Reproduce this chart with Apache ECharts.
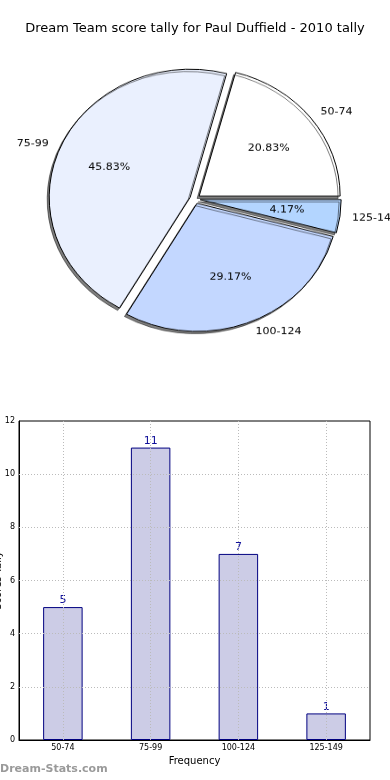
<!DOCTYPE html>
<html>
<head>
<meta charset="utf-8">
<script src="https://cdn.jsdelivr.net/npm/echarts@6/dist/echarts.min.js"></script>
<style>
  html, body { margin: 0; padding: 0; background: #fff; }
  #wrap { position: relative; width: 390px; height: 780px; overflow: hidden; }
  #main { position: absolute; left: 0; top: 0; width: 390px; height: 780px; }
  #pie { position: absolute; left: 0; top: 0; width: 390px; height: 440px;
         transform: scaleY(0.908); transform-origin: 0 0; pointer-events: none; }
</style>
</head>
<body>
<div id="wrap"><div id="main"></div><div id="pie"></div></div>
<script>
// ---- data ----
const titleText = 'Dream Team score tally for Paul Duffield - 2010 tally';
const categories = ['50-74', '75-99', '100-124', '125-149'];
const counts = [5, 11, 7, 1];
const yTicks = [0, 2, 4, 6, 8, 10, 12];
const xAxisName = 'Frequency';
const yAxisName = 'Scores Tally';
const watermark = 'Dream-Stats.com';

// ---- styles ----
const FONT = 'DejaVu Sans';
const pieColors = ['#ffffff', '#eaf0fe', '#c3d7ff', '#b3d5ff'];

const main = echarts.init(document.getElementById('main'), null, { renderer: 'canvas' });
main.setOption({
  animation: false,
  backgroundColor: '#ffffff',
  textStyle: { fontFamily: FONT },
  title: {
    text: titleText, left: 'center', top: 17,
    textStyle: { fontSize: 13, fontWeight: 'normal', color: '#000', fontFamily: FONT }
  },
  grid: { left: 19, right: 20, top: 421, bottom: 40, show: true, borderColor: '#000', borderWidth: 1,
          containLabel: false, outerBoundsMode: 'none' },
  xAxis: {
    type: 'category', data: categories,
    axisLine: { lineStyle: { color: '#000', width: 1 } },
    axisTick: { show: false },
    axisLabel: { fontSize: 8, color: '#000', margin: 4, fontFamily: FONT },
    splitLine: { show: false },
    name: xAxisName, nameLocation: 'middle', nameGap: 16, nameMoveOverlap: false,
    nameTextStyle: { fontSize: 10, color: '#000', fontFamily: FONT }
  },
  yAxis: {
    type: 'value', min: 0, max: 12, interval: 2,
    axisLine: { show: true, lineStyle: { color: '#000', width: 1 } },
    axisTick: { show: false },
    axisLabel: { fontSize: 8, color: '#000', margin: 4, fontFamily: FONT },
    splitLine: { show: false },
    name: yAxisName, nameLocation: 'middle', nameGap: 16, nameRotate: 90, nameMoveOverlap: false,
    nameTextStyle: { fontSize: 10, color: '#000', fontFamily: FONT }
  },
  series: [{
    type: 'bar',
    data: counts,
    barWidth: '45%',
    itemStyle: { color: '#cccce6', borderColor: '#000080', borderWidth: 1 },
    label: { show: true, position: 'top', distance: 1, color: '#10109a', fontSize: 11, fontFamily: FONT },
    emphasis: { disabled: true },
    markLine: {
      silent: true, symbol: 'none', animation: false,
      label: { show: false },
      lineStyle: { type: [1, 2], color: '#bbbbbb', width: 1 },
      data: yTicks.filter(v => v > yTicks[0] && v < yTicks[yTicks.length - 1]).map(v => ({ yAxis: v }))
        .concat(categories.map(c => ({ xAxis: c })))
    }
  }],
  graphic: [{
    type: 'text', left: 0, top: 764,
    style: { text: watermark, fontSize: 11, fontWeight: 'bold', fill: '#9a9a9a', fontFamily: FONT }
  }]
});

const pie = echarts.init(document.getElementById('pie'), null, { renderer: 'canvas' });
const R = 141;
const CY = 199 / 0.908;
const pieData = categories.map((c, i) => ({
  name: c, value: counts[i], selected: true,
  itemStyle: { color: pieColors[i] }
}));
pie.setOption({
  animation: false,
  backgroundColor: 'transparent',
  series: [{
    type: 'pie',
    center: [195, CY], radius: R,
    startAngle: 0, clockwise: false,
    selectedMode: 'multiple', selectedOffset: 5.2,
    avoidLabelOverlap: false,
    emphasis: { disabled: true },
    itemStyle: {
      borderColor: '#000', borderWidth: 1,
      shadowColor: 'rgba(0,0,0,0.5)', shadowBlur: 0, shadowOffsetX: -2, shadowOffsetY: 2.5
    },
    select: { itemStyle: { borderColor: '#000', borderWidth: 1 } },
    label: {
      show: true, position: 'outside', formatter: '{b}', fontSize: 11, color: '#000',
      fontFamily: FONT, distanceToLabelLine: 0
    },
    labelLine: { show: false, length: R * 0.1 - 2, length2: 0 },
    data: pieData
  }, {
    type: 'pie',
    silent: true,
    center: [195, CY], radius: [0, R * 1.2],
    startAngle: 0, clockwise: false,
    selectedMode: 'multiple', selectedOffset: 5.2,
    emphasis: { disabled: true },
    itemStyle: { color: 'rgba(0,0,0,0)', borderWidth: 0 },
    select: { itemStyle: { color: 'rgba(0,0,0,0)', borderWidth: 0 } },
    label: { show: true, position: 'inside', formatter: '{d}%', fontSize: 11, color: '#000', fontFamily: FONT },
    labelLine: { show: false },
    data: categories.map((c, i) => ({ name: c, value: counts[i], selected: true }))
  }]
});
</script>
</body>
</html>
